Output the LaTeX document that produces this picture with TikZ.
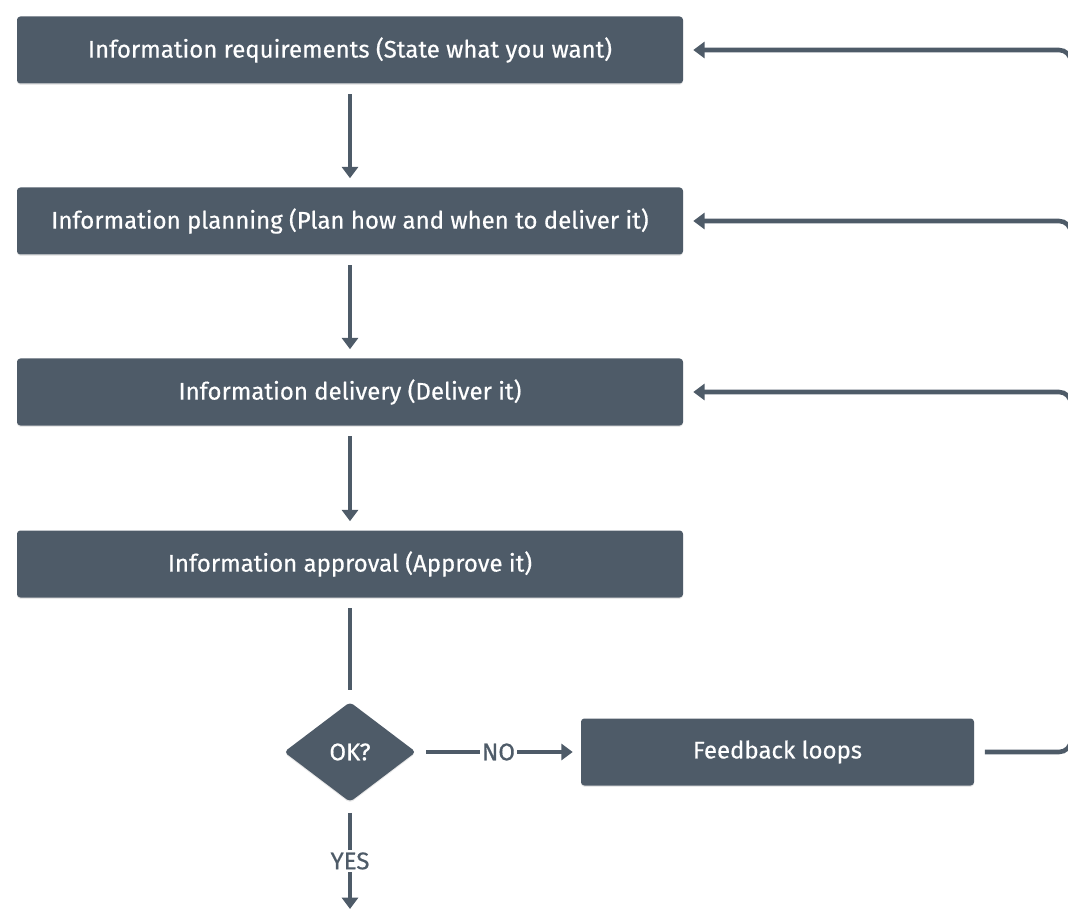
\documentclass[tikz,border=0pt]{standalone}
\usepackage{fontspec}
\setmainfont{Fira Sans}[FakeBold=0.5]
\usetikzlibrary{arrows.meta,shapes.geometric,shadows}
\definecolor{slate}{RGB}{78,91,104}
\begin{document}
\begin{tikzpicture}[x=0.75pt,y=-0.75pt,
  stepbox/.style={draw=none,fill=slate,rounded corners=2.5pt,text=white,
    minimum height=50.25pt,inner sep=0pt,font=\fontsize{18}{20}\selectfont,
    drop shadow={opacity=0.18,shadow xshift=0pt,shadow yshift=-1pt}},
  decide/.style={diamond,fill=slate,text=white,minimum width=99pt,minimum height=75pt,
    inner sep=0pt,rounded corners=3pt,font=\fontsize{18}{20}\selectfont,
    drop shadow={opacity=0.18,shadow xshift=0pt,shadow yshift=-1pt}},
  conn/.style={draw=slate,line width=3.4pt},
  arr/.style={conn,-{Triangle[length=8.5pt,width=12pt]}},
  lbl/.style={fill=white,text=slate,inner sep=1.5pt,font=\fontsize{18}{20}\selectfont}]
\useasboundingbox (0,0) rectangle (1068,909);
\clip (0,0) rectangle (1068,909);
\node[stepbox,minimum width=499.5pt] (req) at (350,50) {Information requirements (State what you want)};
\node[stepbox,minimum width=499.5pt] (plan) at (350,221) {Information planning (Plan how and when to deliver it)};
\node[stepbox,minimum width=499.5pt] (del) at (350,392) {Information delivery (Deliver it)};
\node[stepbox,minimum width=499.5pt] (app) at (350,564) {Information approval (Approve it)};
\node[decide] (ok) at (350,752) {OK?};
\node[stepbox,minimum width=294.75pt] (fb) at (777.5,752) {Feedback loops};
\coordinate (r0) at (1071,752);
\coordinate (r1) at (1071,50);
\coordinate (r2) at (1071,221);
\coordinate (r3) at (1071,392);
\coordinate (r2b) at (1071,300);
\coordinate (r3b) at (1071,470);
\coordinate (out) at (350,909);
\coordinate (okt) at (350,690);
\draw[arr,shorten <=8pt,shorten >=6.75pt] (req.south) -- (plan.north);
\draw[arr,shorten <=8pt,shorten >=6.75pt] (plan.south) -- (del.north);
\draw[arr,shorten <=8pt,shorten >=6.75pt] (del.south) -- (app.north);
\draw[conn,shorten <=8pt] (app.south) -- (okt);
\draw[arr,shorten <=7.5pt,shorten >=6pt] (ok.east) -- node[lbl]{NO} (fb.west);
\draw[arr,shorten <=8pt] (ok.south) -- node[lbl,pos=0.55]{YES} (out);
\draw[arr,rounded corners=9pt,shorten <=8pt,shorten >=7.5pt] (fb.east) -- (r0) -- (r1) -- (req.east);
\draw[arr,rounded corners=9pt,shorten >=7.5pt] (r2b) -- (r2) -- (plan.east);
\draw[arr,rounded corners=9pt,shorten >=7.5pt] (r3b) -- (r3) -- (del.east);
\end{tikzpicture}
\end{document}
